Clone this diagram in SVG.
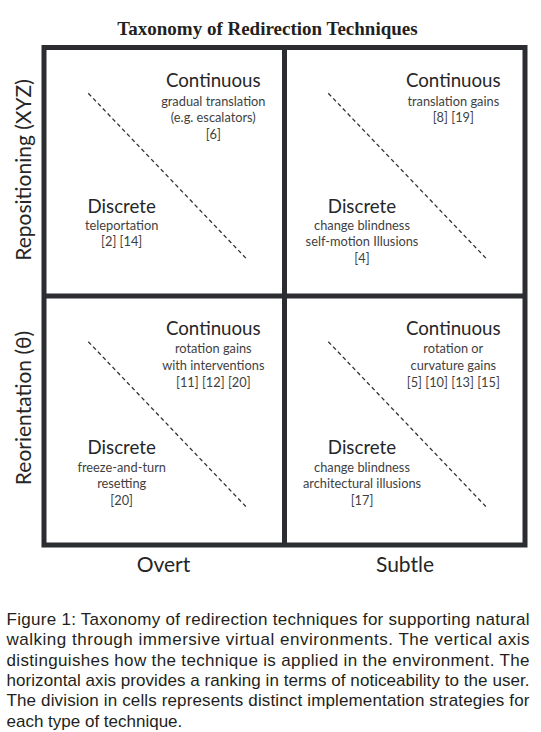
<svg xmlns="http://www.w3.org/2000/svg" width="541" height="732" viewBox="0 0 541 732">
<style>
.title{font-family:"Liberation Serif","Times New Roman",serif;font-weight:bold;font-size:19px;fill:#231f20;text-anchor:middle}
.head{font-family:Lato,"Open Sans",sans-serif;font-size:18.7px;fill:#262626;text-anchor:middle}
.sub{font-family:Lato,"Open Sans",sans-serif;font-size:12.8px;fill:#3f3f3f;text-anchor:middle}
.axis{font-family:Lato,"Open Sans",sans-serif;font-size:21px;fill:#262626;text-anchor:middle}
.cap{font-family:"Liberation Sans",Arial,sans-serif;font-size:17px;fill:#231f20}
.grid{fill:none;stroke:#2b2d31;stroke-width:5}
.div{stroke:#333;stroke-width:1.3;stroke-dasharray:4 3;fill:none}
</style>
<rect width="541" height="732" fill="#fff"/>
<text class="title" x="267.5" y="35">Taxonomy of Redirection Techniques</text>

<g id="grid">
<rect class="grid" x="44" y="47.5" width="481" height="497.5"/>
<line class="grid" x1="284.5" y1="47.5" x2="284.5" y2="545"/>
<line class="grid" x1="44" y1="296" x2="525" y2="296"/>
</g>

<g id="connectors">
<line class="div" x1="88.3" y1="93.3" x2="246" y2="258.3"/>
<line class="div" x1="328.3" y1="93.3" x2="486" y2="258.3"/>
<line class="div" x1="88.3" y1="341.7" x2="246" y2="506.7"/>
<line class="div" x1="328.3" y1="341.7" x2="486" y2="506.7"/>
</g>

<g id="cell-overt-repositioning">
<text class="head" x="213.3" y="87">Continuous</text>
<text class="sub" x="213.3" y="105.5">gradual translation</text>
<text class="sub" x="213.3" y="122">(e.g. escalators)</text>
<text class="sub" x="213.3" y="138.7">[6]</text>
<text class="head" x="121.7" y="212.7">Discrete</text>
<text class="sub" x="121.7" y="229.5">teleportation</text>
<text class="sub" x="121.7" y="246">[2] [14]</text>
</g>

<g id="cell-subtle-repositioning">
<text class="head" x="453.3" y="87">Continuous</text>
<text class="sub" x="453.3" y="105.5">translation gains</text>
<text class="sub" x="453.3" y="122">[8] [19]</text>
<text class="head" x="362" y="212.7">Discrete</text>
<text class="sub" x="362" y="229.5">change blindness</text>
<text class="sub" x="362" y="246">self-motion Illusions</text>
<text class="sub" x="362" y="262.7">[4]</text>
</g>

<g id="cell-overt-reorientation">
<text class="head" x="213.3" y="335">Continuous</text>
<text class="sub" x="213.3" y="353.3">rotation gains</text>
<text class="sub" x="213.3" y="370">with interventions</text>
<text class="sub" x="213.3" y="386.7">[11] [12] [20]</text>
<text class="head" x="121.7" y="454.3">Discrete</text>
<text class="sub" x="121.7" y="471.7">freeze-and-turn</text>
<text class="sub" x="121.7" y="488.3">resetting</text>
<text class="sub" x="121.7" y="505">[20]</text>
</g>

<g id="cell-subtle-reorientation">
<text class="head" x="453.3" y="335">Continuous</text>
<text class="sub" x="453.3" y="353.3">rotation or</text>
<text class="sub" x="453.3" y="370">curvature gains</text>
<text class="sub" x="453.3" y="386.7">[5] [10] [13] [15]</text>
<text class="head" x="362" y="454.3">Discrete</text>
<text class="sub" x="362" y="471.7">change blindness</text>
<text class="sub" x="362" y="488.3">architectural illusions</text>
<text class="sub" x="362" y="505">[17]</text>
</g>

<g id="axis-labels">
<text class="axis" x="163.5" y="571.5">Overt</text>
<text class="axis" x="405" y="571.5">Subtle</text>
<text class="axis" transform="translate(30.5 170) rotate(-90)">Repositioning (XYZ)</text>
<text class="axis" transform="translate(30.5 408) rotate(-90)">Reorientation (θ)</text>
</g>

<g id="caption">
<text class="cap" x="6.5" y="625" textLength="523" lengthAdjust="spacing">Figure 1: Taxonomy of redirection techniques for supporting natural</text>
<text class="cap" x="6.5" y="645.3" textLength="523" lengthAdjust="spacing">walking through immersive virtual environments.  The vertical axis</text>
<text class="cap" x="6.5" y="665.6" textLength="523" lengthAdjust="spacing">distinguishes how the technique is applied in the environment.  The</text>
<text class="cap" x="6.5" y="686" textLength="523" lengthAdjust="spacing">horizontal axis provides a ranking in terms of noticeability to the user.</text>
<text class="cap" x="6.5" y="706.3" textLength="523" lengthAdjust="spacing">The division in cells represents distinct implementation strategies for</text>
<text class="cap" x="6.5" y="726.6">each type of technique.</text>
</g>
</svg>
